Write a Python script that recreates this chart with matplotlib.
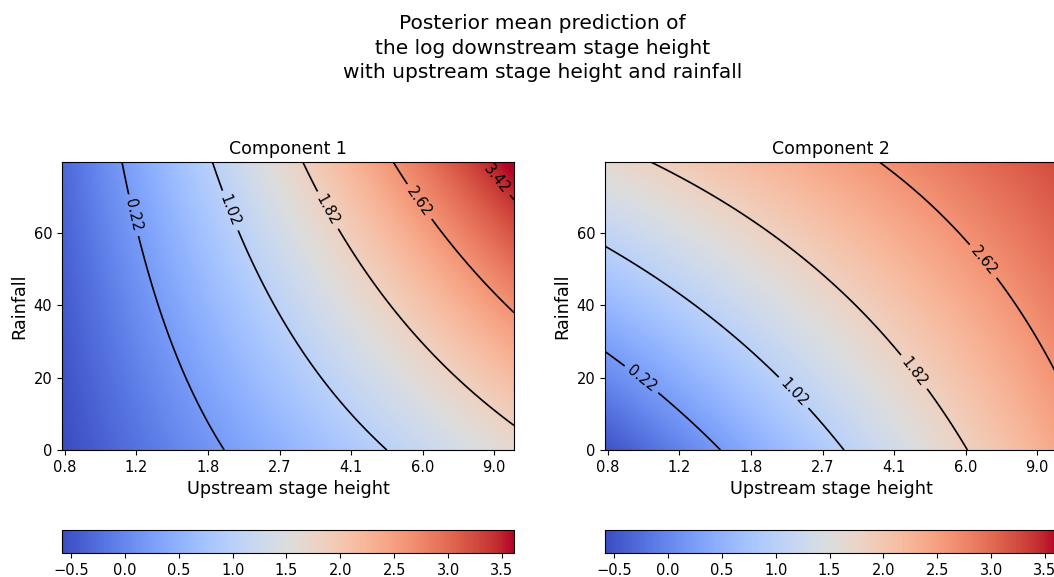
import numpy as np
import matplotlib
matplotlib.use("Agg")
import matplotlib.pyplot as plt

# posterior mean coefficients per component:
# intercept, log(upstream), rainfall, log(upstream)*rainfall
coef_comp1 = [-0.37, 0.868, 0.00545, 0.0087]
coef_comp2 = [-0.254, 1.143, 0.0259, -0.0066]
titles = ["Component 1", "Component 2"]

log_up_range = [-0.24, 2.322]
rain_range = [0.0, 79.6]
color_range = [-0.584, 3.611]

contour_levels = [0.22, 1.02, 1.82, 2.62, 3.42]
tick_labels = ["0.8", "1.2", "1.8", "2.7", "4.1", "6.0", "9.0"]
cbar_ticks = [-0.5, 0.0, 0.5, 1.0, 1.5, 2.0, 2.5, 3.0, 3.5]

# where the contour labels sit (log upstream, rainfall)
label_spots = [
    [(0.175, 65), (0.704, 66), (1.256, 66), (1.796, 69), (2.25, 76)],
    [(-0.042, 19), (0.845, 16.6), (1.523, 22), (1.924, 53)],
]


def post_mean(coef, u, r):
    return coef[0] + coef[1] * u + coef[2] * r + coef[3] * u * r


u = np.linspace(log_up_range[0], log_up_range[1], 300)
r = np.linspace(rain_range[0], rain_range[1], 300)
U, R = np.meshgrid(u, r)
Z1 = post_mean(coef_comp1, U, R)
Z2 = post_mean(coef_comp2, U, R)

tick_pos = np.log(0.8) + np.arange(len(tick_labels)) * np.log(1.5)

fig = plt.figure(figsize=(10.54, 5.77), dpi=100)
fig.suptitle("Posterior mean prediction of\nthe log downstream stage height\nwith upstream stage height and rainfall",
             x=0.515, y=0.976, fontsize=14.5, linespacing=1.38)

lefts = [0.0588, 0.574]
for i, Z in enumerate([Z1, Z2]):
    ax = fig.add_axes([lefts[i], 0.2201, 0.4288, 0.4991])
    im = ax.imshow(Z, origin="lower", aspect="auto", cmap="coolwarm",
                   extent=[log_up_range[0], log_up_range[1], rain_range[0], rain_range[1]],
                   vmin=color_range[0], vmax=color_range[1])
    cs = ax.contour(U, R, Z, levels=contour_levels, colors="black", linewidths=1.2)
    ax.clabel(cs, inline=True, fontsize=10.5, fmt="%.2f", manual=label_spots[i])
    ax.set_xticks(tick_pos)
    ax.set_xticklabels(tick_labels)
    ax.set_yticks([0, 20, 40, 60])
    ax.tick_params(labelsize=10.5)
    ax.set_xlabel("Upstream stage height", fontsize=12.7)
    ax.set_ylabel("Rainfall", fontsize=12.7)
    ax.set_title(titles[i], fontsize=12.5)

    cax = fig.add_axes([lefts[i], 0.0416, 0.4288, 0.0399])
    cb = fig.colorbar(im, cax=cax, orientation="horizontal")
    cb.set_ticks(cbar_ticks)
    cb.ax.tick_params(labelsize=10.5)

fig.savefig("out.png", dpi=100)
